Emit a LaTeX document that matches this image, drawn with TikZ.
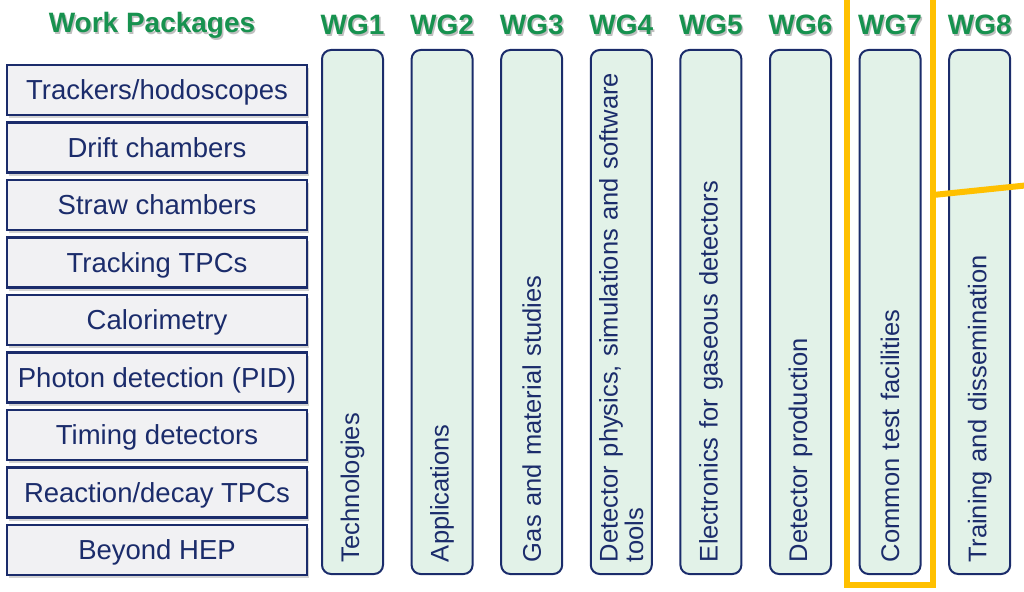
\documentclass[tikz,border=0pt]{standalone}
\usepackage{fontspec}
\setmainfont{Liberation Sans}
\usepackage{xcolor}
\usepackage{tikz}
\usetikzlibrary{shapes,arrows,shadows}
\definecolor{navy}{HTML}{1B2C6B}
\definecolor{wpgreen}{HTML}{17924F}
\definecolor{wpgray}{HTML}{F1F1F3}
\definecolor{wgfill}{HTML}{E2F2E8}
\definecolor{frameyellow}{HTML}{FFC000}

\begin{document}
\begin{tikzpicture}[x=1pt,y=-1pt,
  wpbox/.style={draw=navy,line width=2.2pt,fill=wpgray,minimum width=300pt,minimum height=50pt,
    inner sep=0pt,text height=19.7pt,text depth=0pt,text=navy,font=\fontsize{27.5}{30}\selectfont,
    drop shadow={shadow xshift=2pt,shadow yshift=-3pt,opacity=0.35}},
  wgbox/.style={draw=navy,line width=2pt,fill=wgfill,rounded corners=9pt,rotate=90,
    minimum width=524pt,minimum height=61pt,text width=500pt,inner xsep=12pt,inner ysep=0pt,
    align=left,text=navy,font=\fontsize{25.5}{25.5}\selectfont},
  title/.style={text=wpgreen,font=\bfseries\fontsize{28}{30}\selectfont},
  titleshadow/.style={text=black,opacity=0.25,font=\bfseries\fontsize{28}{30}\selectfont},
  frame/.style={draw=frameyellow,line width=6pt}]
\useasboundingbox (0,0) rectangle (1024,591);
%
\node[titleshadow] at (153.5,27) {Work Packages};
\node[title] (wptitle) at (152,25) {Work Packages};
%
\foreach \lbl [count=\i] in {Trackers/hodoscopes, Drift chambers, Straw chambers, Tracking TPCs,
  Calorimetry, Photon detection (PID), Timing detectors, Reaction/decay TPCs, Beyond HEP}
  \node[wpbox] (wp\i) at (157,{90+(\i-1)*57.5}) {\lbl};
%
\foreach \lbl [count=\i] in {Technologies, Applications, Gas and material studies,
  {Detector physics, simulations and software\\tools}, Electronics for gaseous detectors,
  Detector production, Common test facilities, Training and dissemination}
{
  \node[wgbox] (wg\i) at ({352.5+(\i-1)*89.6},312) {\lbl};
  \node[titleshadow] at ({354+(\i-1)*89.6},27) {WG\i};
  \node[title] (wglbl\i) at ({352.5+(\i-1)*89.6},25) {WG\i};
}
%
\draw[frame] (847,-5) -- (847,585) -- (933,585) -- (933,-5);
\draw[frame] (933,195) -- (1030,185); % new
\end{tikzpicture}
\end{document}
